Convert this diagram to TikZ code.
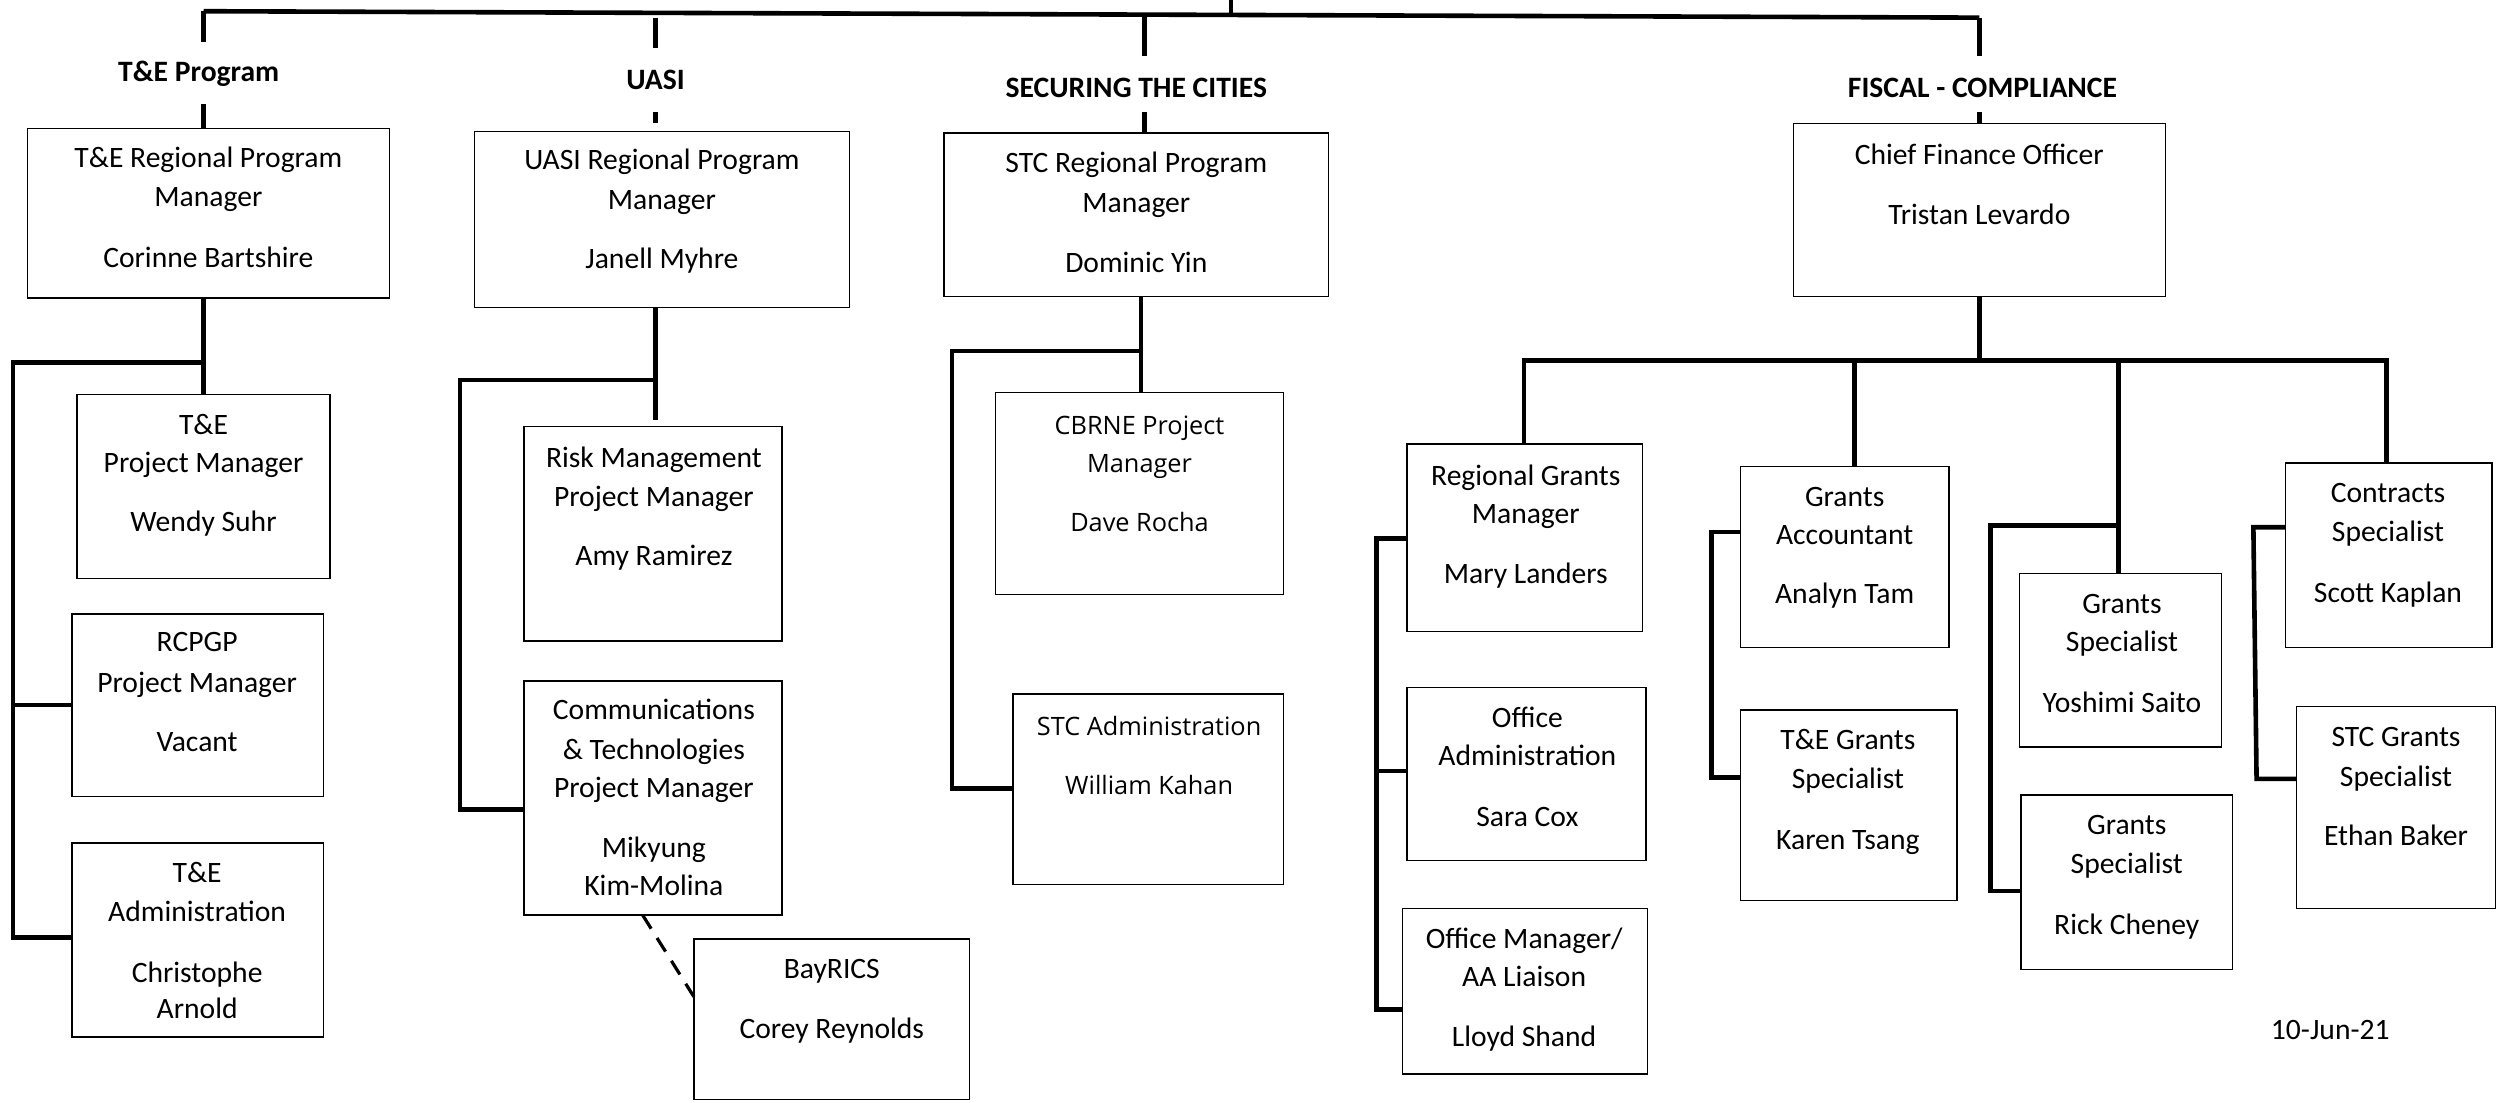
\documentclass[tikz,border=0pt]{standalone}
\usepackage{fontspec}
\setmainfont{Carlito}
\newfontfamily\osans{Open Sans}
\usetikzlibrary{fit}
\newcommand{\obx}[5]{\coordinate (#1-a) at (#2,#3); \coordinate (#1-b) at (#4,#5); \node[obox, fit=(#1-a)(#1-b)] (#1) {};}
\newcommand{\tline}[5][tx]{\node[#1] (#2) at (#3,#4+6.8) {#5};}
\begin{document}
\begin{tikzpicture}[x=1.6027pt,y=-1.6027pt,
 obox/.style={draw, line width=1.4pt, inner sep=0pt},
 conn/.style={line width=4.6pt},
 dconn/.style={line width=3.2pt, dash pattern=on 16pt off 11pt},
 tx/.style={font=\fontsize{29.6}{35}\selectfont, anchor=base, inner sep=0pt},
 tos/.style={font=\osans\fontsize{25.3}{30}\selectfont, anchor=base, inner sep=0pt},
 hd/.style={font=\bfseries\fontsize{29.6}{35}\selectfont, anchor=base, inner sep=0pt}]
\useasboundingbox[fill=white] (0,0) rectangle (1568,688);

% headers
\tline[hd]{hte}{124}{44}{T\&E Program}
\tline[hd]{hua}{409}{49}{UASI}
\tline[hd]{hst}{709}{54}{SECURING THE CITIES}
\tline[hd]{hfi}{1237}{54}{FISCAL - COMPLIANCE}

% boxes
\obx{te}{17}{80}{243}{186}
\obx{ua}{296}{82}{530}{192}
\obx{st}{589}{83}{829}{185}
\obx{cfo}{1119}{77}{1351}{185}
\obx{wen}{48}{246}{206}{361}
\obx{rcp}{45}{383}{202}{497}
\obx{tea}{45}{526}{202}{647}
\obx{rsk}{327}{266}{488}{400}
\obx{com}{327}{425}{488}{571}
\obx{bay}{433}{586}{605}{686}
\obx{cbr}{621}{245}{801}{371}
\obx{sta}{632}{433}{801}{552}
\obx{rgm}{878}{277}{1025}{394}
\obx{ofa}{878}{429}{1027}{537}
\obx{ofm}{875}{567}{1028}{670}
\obx{gac}{1086}{291}{1216}{404}
\obx{teg}{1086}{443}{1221}{562}
\obx{ysh}{1260}{358}{1386}{466}
\obx{rck}{1261}{496}{1393}{605}
\obx{con}{1426}{289}{1555}{404}
\obx{stg}{1433}{441}{1557}{567}

% texts
\tline{te1}{130}{98}{T\&E Regional Program}
\tline{te2}{130}{122}{Manager}
\tline{te3}{130}{160}{Corinne Bartshire}
\tline{ua1}{413}{99}{UASI Regional Program}
\tline{ua2}{413}{124}{Manager}
\tline{ua3}{413}{161}{Janell Myhre}
\tline{st1}{709}{101}{STC Regional Program}
\tline{st2}{709}{126}{Manager}
\tline{st3}{709}{163}{Dominic Yin}
\tline{cf1}{1235}{96}{Chief Finance Officer}
\tline{cf2}{1235}{133}{Tristan Levardo}
\tline{we1}{127}{264}{T\&E}
\tline{we2}{127}{288}{Project Manager}
\tline{we3}{127}{325}{Wendy Suhr}
\tline{rc1}{123}{400}{RCPGP}
\tline{rc2}{123}{425}{Project Manager}
\tline{rc3}{123}{462}{Vacant}
\tline{ta1}{123}{544}{T\&E}
\tline{ta2}{123}{568}{Administration}
\tline{ta3}{123}{606}{Christophe}
\tline{ta4}{123}{629}{Arnold}
\tline{rs1}{408}{285}{Risk Management}
\tline{rs2}{408}{309}{Project Manager}
\tline{rs3}{408}{346}{Amy Ramirez}
\tline{co1}{408}{442}{Communications}
\tline{co2}{408}{467}{\& Technologies}
\tline{co3}{408}{491}{Project Manager}
\tline{co4}{408}{528}{Mikyung}
\tline{co5}{408}{552}{Kim-Molina}
\tline{ba1}{519}{604}{BayRICS}
\tline{ba2}{519}{641}{Corey Reynolds}
\tline[tos]{cb1}{711}{264}{CBRNE Project}
\tline[tos]{cb2}{711}{288}{Manager}
\tline[tos]{cb3}{711}{325}{Dave Rocha}
\tline[tos]{sa1}{717}{452}{STC Administration}
\tline[tos]{sa2}{717}{489}{William Kahan}
\tline{rg1}{952}{296}{Regional Grants}
\tline{rg2}{952}{320}{Manager}
\tline{rg3}{952}{357}{Mary Landers}
\tline{oa1}{953}{447}{Office}
\tline{oa2}{953}{471}{Administration}
\tline{oa3}{953}{509}{Sara Cox}
\tline{om1}{951}{585}{Office Manager/}
\tline{om2}{951}{609}{AA Liaison}
\tline{om3}{951}{646}{Lloyd Shand}
\tline{ga1}{1151}{309}{Grants}
\tline{ga2}{1151}{333}{Accountant}
\tline{ga3}{1151}{370}{Analyn Tam}
\tline{tg1}{1153}{461}{T\&E Grants}
\tline{tg2}{1153}{485}{Specialist}
\tline{tg3}{1153}{523}{Karen Tsang}
\tline{ys1}{1324}{376}{Grants}
\tline{ys2}{1324}{400}{Specialist}
\tline{ys3}{1324}{438}{Yoshimi Saito}
\tline{rk1}{1327}{514}{Grants}
\tline{rk2}{1327}{538}{Specialist}
\tline{rk3}{1327}{576}{Rick Cheney}
\tline{cn1}{1490}{307}{Contracts}
\tline{cn2}{1490}{331}{Specialist}
\tline{cn3}{1490}{369}{Scott Kaplan}
\tline{sg1}{1495}{459}{STC Grants}
\tline{sg2}{1495}{484}{Specialist}
\tline{sg3}{1495}{521}{Ethan Baker}
\tline{date}{1454}{642}{10-Jun-21}

% top bus
\coordinate (root) at (768,0);
\coordinate (busL) at (127,7);
\coordinate (busR) at (1235,11);
\draw[conn] (busL) -- (busR);
\draw[conn] (root) -- (768,9.5);
\draw[conn] (busL) -- (127,26);
\draw[conn] (127,65) -- (127,80);
\draw[conn] (409,11.5) -- (409,30);
\draw[conn] (409,70) -- (409,77);
\draw[conn] (714,10) -- (714,35);
\draw[conn] (714,70) -- (714,83);
\draw[conn] (busR) -- (1235,35);
\draw[conn] (1235,70) -- (1235,77);

% T&E subtree
\draw[conn] (127,186) -- (127,246);
\draw[conn] (127,226) -- (8,226) -- (8,585) -- (45,585);
\draw[conn] (8,440) -- (rcp.west);

% UASI subtree
\draw[conn] (409,192) -- (409,262);
\draw[conn] (409,237) -- (287,237) -- (287,505) -- (327,505);
\draw[dconn] (401,571) -- (433,622);

% STC subtree
\draw[conn] (712,185) -- (712,245);
\draw[conn] (712,219) -- (594,219) -- (594,492) -- (632,492);

% Fiscal subtree
\draw[conn] (1235,185) -- (1235,225);
\draw[conn] (951,277) -- (951,225) -- (1489,225) -- (1489,289);
\draw[conn] (1157,225) -- (1157,291);
\draw[conn] (1322,225) -- (1322,358);
\draw[conn] (878,336) -- (859,336) -- (859,630) -- (875,630);
\draw[conn] (859,481) -- (878,481);
\draw[conn] (1086,332) -- (1068,332) -- (1068,485) -- (1086,485);
\draw[conn] (1322,328) -- (1242,328) -- (1242,556) -- (1261,556);
\draw[conn] (1426,329) -- (1406,329) -- (1408,486) -- (1433,486);
\end{tikzpicture}
\end{document}
